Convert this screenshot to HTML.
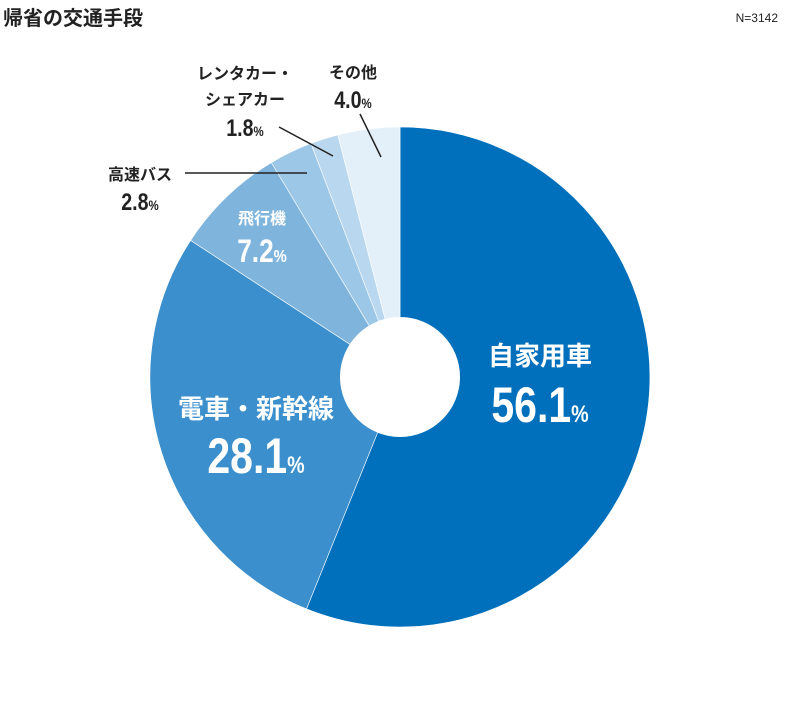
<!DOCTYPE html>
<html><head><meta charset="utf-8"><style>
body{margin:0;background:#fff;width:800px;height:697px;overflow:hidden}
text{font-family:"Liberation Sans","Noto Sans CJK JP",sans-serif;font-weight:bold}
.n{font-family:"Liberation Sans Narrow","Liberation Sans",sans-serif}
</style></head><body>
<svg width="800" height="697" viewBox="0 0 800 697">
<text x="3" y="25" font-size="20" fill="#222">帰省の交通手段</text>
<text x="778" y="22" font-size="12" text-anchor="end" fill="#222" font-weight="normal" style="font-weight:normal">N=3142</text>
<g stroke="#fff" stroke-width="0.6">
<path d="M400,377 L400,127 A250,250 0 1,1 306.5,608.9 Z" fill="#0070bc"/>
<path d="M400,377 L306.5,608.9 A250,250 0 0,1 190.6,240.4 Z" fill="#3a8fcc"/>
<path d="M400,377 L190.6,240.4 A250,250 0 0,1 271.4,162.6 Z" fill="#7fb5dd"/>
<path d="M400,377 L271.4,162.6 A250,250 0 0,1 310.9,143.4 Z" fill="#9cc7e6"/>
<path d="M400,377 L310.9,143.4 A250,250 0 0,1 337.8,134.9 Z" fill="#b9d8ef"/>
<path d="M400,377 L337.8,134.9 A250,250 0 0,1 400,127 Z" fill="#e4f0f9"/>
</g>
<circle cx="400" cy="377" r="60" fill="#fff"/>
<g fill="#fff" text-anchor="middle">
<text x="540" y="365" font-size="26">自家用車</text>
<text x="540" y="422" font-size="50" class="n" transform="translate(540 0) scale(0.82 1) translate(-540 0)">56.1<tspan font-size="24">%</tspan></text>
<text x="256" y="418" font-size="26">電車・新幹線</text>
<text x="256" y="473" font-size="50" class="n" transform="translate(256 0) scale(0.82 1) translate(-256 0)">28.1<tspan font-size="24">%</tspan></text>
<text x="262" y="224" font-size="16">飛行機</text>
<text x="262" y="262" font-size="32" class="n" transform="translate(262 0) scale(0.82 1) translate(-262 0)">7.2<tspan font-size="18">%</tspan></text>
</g>
<g fill="#222" text-anchor="middle">
<text x="140" y="180" font-size="16">高速バス</text>
<text x="140" y="210" font-size="24" class="n" transform="translate(140 0) scale(0.82 1) translate(-140 0)">2.8<tspan font-size="14">%</tspan></text>
<text x="245" y="79" font-size="16">レンタカー・</text>
<text x="245" y="105" font-size="16">シェアカー</text>
<text x="245" y="136" font-size="24" class="n" transform="translate(245 0) scale(0.82 1) translate(-245 0)">1.8<tspan font-size="14">%</tspan></text>
<text x="353" y="78" font-size="16">その他</text>
<text x="353" y="108" font-size="24" class="n" transform="translate(353 0) scale(0.82 1) translate(-353 0)">4.0<tspan font-size="14">%</tspan></text>
</g>
<g stroke="#222" stroke-width="1.5">
<line x1="185" y1="173" x2="307" y2="173"/>
<line x1="279" y1="127" x2="333" y2="156"/>
<line x1="360" y1="114" x2="381" y2="157"/>
</g>
</svg>
</body></html>
